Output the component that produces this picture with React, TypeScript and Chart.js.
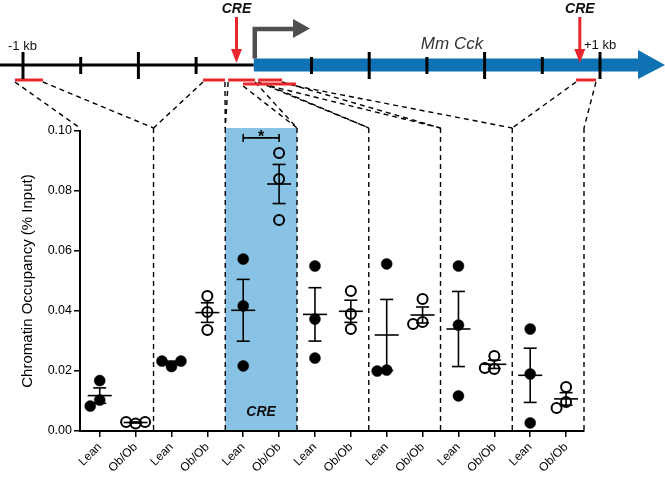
import React, { useEffect, useRef } from "react";
import { Chart, registerables } from "chart.js";

Chart.register(...registerables);

// ---------------- data ----------------
const groupLabels = ["Lean", "Ob/Ob"];
const yTitle = "Chromatin Occupancy (% Input)";
const yTicks = [0, 0.02, 0.04, 0.06, 0.08, 0.1];

// replicate values per amplicon (7 amplicons)
const leanValues = [
  [0.0103, 0.0168, 0.0083],
  [0.0215, 0.0233, 0.0233],
  [0.0573, 0.0417, 0.0217],
  [0.055, 0.0373, 0.0243],
  [0.0557, 0.0203, 0.02],
  [0.055, 0.0353, 0.0117],
  [0.034, 0.019, 0.0027],
];
const obValues = [
  [0.0025, 0.003, 0.003],
  [0.0337, 0.0397, 0.045],
  [0.0927, 0.084, 0.0703],
  [0.0467, 0.039, 0.034],
  [0.0363, 0.044, 0.0357],
  [0.0207, 0.025, 0.021],
  [0.0147, 0.0097, 0.0077],
];

// significance: [amplicon index, label, bracket height]
const significance = [{ amplicon: 2, label: "*", y: 0.0977 }];
const highlightedAmplicon = 2;
const highlightLabel = "CRE";

// gene diagram (kb relative coordinates)
const geneTicksKb = [-1, -0.8, -0.6, -0.4, -0.2, 0, 0.2, 0.4, 0.6, 0.8, 1];
const tssKb = -0.2;
const creKb = [-0.26, 0.93];
const ampliconsKb = [
  [-1.028, -0.931],
  [-0.376, -0.3],
  [-0.289, -0.196],
  [-0.237, -0.144],
  [-0.185, -0.102],
  [-0.144, -0.054],
  [0.917, 0.986],
];
const geneName = "Mm Cck";
const kbLabels = [
  { kb: -1, text: "-1 kb" },
  { kb: 1, text: "+1 kb" },
];

// ---------------- layout constants ----------------
const W = 665;
const H = 480;
const X_MIN = -0.55;
const X_MAX = 13.5;
const Y_MAX = 0.1;
const PAD = { left: 0, right: 81, top: 131, bottom: 0 };
const Y_AXIS_W = 80;
const X_AXIS_H = 49;
const PX_PER_X = (W - PAD.right - Y_AXIS_W) / (X_MAX - X_MIN);
const PX_PER_Y = (H - PAD.top - X_AXIS_H) / Y_MAX;
const FONT = "'Liberation Sans', Arial, Helvetica, sans-serif";

const KB0_PX = 23;
const PX_PER_KB = 288.5;
const kbToPx = (kb: number) => KB0_PX + (kb + 1) * PX_PER_KB;
const GENE_Y = 65;

const RED = "#E8262B";
const BLUE_ARROW = "#0E72B5";
const BLUE_REGION = "#88C3E5";

// beeswarm offsets (in x units) computed from values
function swarm(values: number[]) {
  const step = 9.5;
  const diam = 9.5;
  const placed: { dx: number; v: number }[] = [];
  return values.map((v) => {
    const tries = [0, -1, 1, -2, 2, -3, 3];
    for (const k of tries) {
      const dx = k * step;
      const ok = placed.every(
        (p) => Math.hypot(p.dx - dx, (p.v - v) * PX_PER_Y) >= diam
      );
      if (ok) {
        placed.push({ dx, v });
        return dx / PX_PER_X;
      }
    }
    return 0;
  });
}

function buildPoints(sets: number[][], g: number) {
  const pts: { x: number; y: number }[] = [];
  sets.forEach((vals, p) => {
    const offs = swarm(vals);
    vals.forEach((v, i) => pts.push({ x: 2 * p + g + offs[i], y: v }));
  });
  return pts;
}

function stats(vals: number[]) {
  const n = vals.length;
  const mean = vals.reduce((a, b) => a + b, 0) / n;
  const sd = Math.sqrt(vals.reduce((a, b) => a + (b - mean) ** 2, 0) / (n - 1));
  return { mean, sem: sd / Math.sqrt(n) };
}

function line(ctx: CanvasRenderingContext2D, x1: number, y1: number, x2: number, y2: number) {
  ctx.beginPath();
  ctx.moveTo(x1, y1);
  ctx.lineTo(x2, y2);
  ctx.stroke();
}

function panelEdges(chart: any, p: number) {
  const x = chart.scales.x;
  const left = p === 0 ? x.left : x.getPixelForValue(2 * p - 0.5);
  const right = x.getPixelForValue(2 * p + 1.5);
  return { left, right };
}

const backgroundPlugin = {
  id: "bg",
  beforeDraw(chart: any) {
    const { ctx } = chart;
    const y = chart.scales.y;
    const { left, right } = panelEdges(chart, highlightedAmplicon);
    ctx.save();
    ctx.fillStyle = BLUE_REGION;
    const top = y.top - 3;
    ctx.fillRect(left, top, right - left, y.bottom - top);
    ctx.restore();
  },
  beforeDatasetsDraw(chart: any) {
    const { ctx } = chart;
    const y = chart.scales.y;
    const top = y.top - 3;
    ctx.save();
    ctx.strokeStyle = "#000";
    ctx.lineWidth = 1.4;
    ctx.setLineDash([5, 4]);
    for (let p = 0; p < leanValues.length; p++) {
      const { right } = panelEdges(chart, p);
      line(ctx, right, top, right, y.bottom);
    }
    ctx.setLineDash([]);
    // label in highlighted panel
    const { left, right } = panelEdges(chart, highlightedAmplicon);
    ctx.fillStyle = "#111";
    ctx.font = `italic bold 14px ${FONT}`;
    ctx.textAlign = "center";
    ctx.textBaseline = "middle";
    ctx.fillText(highlightLabel, (left + right) / 2, y.getPixelForValue(0.0063));
    ctx.restore();
  },
};

const errorBarPlugin = {
  id: "errorBars",
  afterDatasetsDraw(chart: any) {
    const { ctx } = chart;
    const x = chart.scales.x;
    const y = chart.scales.y;
    ctx.save();
    ctx.strokeStyle = "#000";
    ctx.lineWidth = 1.6;
    [leanValues, obValues].forEach((sets, g) =>
      sets.forEach((vals, p) => {
        const { mean, sem } = stats(vals);
        const cx = x.getPixelForValue(2 * p + g);
        const ym = y.getPixelForValue(mean);
        const yt = y.getPixelForValue(mean + sem);
        const yb = y.getPixelForValue(mean - sem);
        line(ctx, cx - 12, ym, cx + 12, ym);
        line(ctx, cx, yt, cx, yb);
        line(ctx, cx - 6.5, yt, cx + 6.5, yt);
        line(ctx, cx - 6.5, yb, cx + 6.5, yb);
      })
    );
    // significance brackets
    significance.forEach((s) => {
      const x1 = x.getPixelForValue(2 * s.amplicon);
      const x2 = x.getPixelForValue(2 * s.amplicon + 1);
      const yy = y.getPixelForValue(s.y);
      ctx.lineWidth = 1.6;
      line(ctx, x1, yy, x2, yy);
      line(ctx, x1, yy - 4, x1, yy + 4);
      line(ctx, x2, yy - 4, x2, yy + 4);
      ctx.fillStyle = "#000";
      ctx.font = `bold 16px ${FONT}`;
      ctx.textAlign = "center";
      ctx.textBaseline = "alphabetic";
      ctx.fillText(s.label, (x1 + x2) / 2, yy + 4);
    });
    ctx.restore();
  },
};

const genePlugin = {
  id: "gene",
  afterDraw(chart: any) {
    const { ctx } = chart;
    const y = chart.scales.y;
    const top = y.top - 3;
    ctx.save();

    // connection dashed lines from amplicons to panels
    const rowEnds: number[] = [];
    const rows = ampliconsKb.map(([a, b]) => {
      const xa = kbToPx(a);
      let r = 0;
      while (rowEnds[r] !== undefined && rowEnds[r] > xa + 0.5) r++;
      rowEnds[r] = kbToPx(b);
      return r;
    });
    const rowY = (r: number) => 80 + r * 4;

    ctx.strokeStyle = "#000";
    ctx.lineWidth = 1.4;
    ctx.setLineDash([5, 4]);
    ampliconsKb.forEach(([a, b], p) => {
      const { left, right } = panelEdges(chart, p);
      const yy = rowY(rows[p]) + 2;
      line(ctx, kbToPx(a), yy, left, top);
      line(ctx, kbToPx(b), yy, right, top);
    });
    ctx.setLineDash([]);

    // amplicon red segments
    ctx.strokeStyle = RED;
    ctx.lineWidth = 3;
    ampliconsKb.forEach(([a, b], p) => {
      line(ctx, kbToPx(a), rowY(rows[p]), kbToPx(b), rowY(rows[p]));
    });

    // genomic line (upstream)
    const tssX = kbToPx(tssKb);
    ctx.strokeStyle = "#000";
    ctx.lineWidth = 3;
    line(ctx, 0, GENE_Y, tssX, GENE_Y);

    // gene body arrow
    ctx.fillStyle = BLUE_ARROW;
    const headStart = 638;
    ctx.fillRect(tssX, GENE_Y - 6.5, headStart - tssX, 13);
    ctx.beginPath();
    ctx.moveTo(headStart, GENE_Y - 15);
    ctx.lineTo(W, GENE_Y);
    ctx.lineTo(headStart, GENE_Y + 14);
    ctx.closePath();
    ctx.fill();

    // ticks
    ctx.strokeStyle = "#000";
    ctx.lineWidth = 3;
    geneTicksKb.forEach((kb, i) => {
      if (Math.abs(kb - tssKb) < 1e-6) return;
      const tx = kbToPx(kb);
      const tall = i % 2 === 0;
      if (tall) line(ctx, tx, GENE_Y - 13, tx, GENE_Y + 14);
      else line(ctx, tx, GENE_Y - 8, tx, GENE_Y + 9);
    });

    // TSS arrow
    ctx.strokeStyle = "#4F4F4F";
    ctx.fillStyle = "#4F4F4F";
    ctx.lineWidth = 4.5;
    ctx.beginPath();
    ctx.moveTo(tssX + 1, GENE_Y - 6.5);
    ctx.lineTo(tssX + 1, 29);
    ctx.lineTo(295, 29);
    ctx.stroke();
    ctx.beginPath();
    ctx.moveTo(293, 19);
    ctx.lineTo(310, 28.5);
    ctx.lineTo(293, 38);
    ctx.closePath();
    ctx.fill();

    // CRE arrows
    creKb.forEach((kb) => {
      const cx = kbToPx(kb);
      ctx.strokeStyle = RED;
      ctx.fillStyle = RED;
      ctx.lineWidth = 3;
      line(ctx, cx, 17, cx, 51);
      ctx.beginPath();
      ctx.moveTo(cx - 5.5, 49);
      ctx.lineTo(cx + 5.5, 49);
      ctx.lineTo(cx, 63);
      ctx.closePath();
      ctx.fill();
      ctx.fillStyle = "#111";
      ctx.font = `italic bold 14px ${FONT}`;
      ctx.textAlign = "center";
      ctx.textBaseline = "alphabetic";
      ctx.fillText("CRE", cx, 13);
    });

    // texts
    ctx.fillStyle = "#111";
    ctx.font = `13px ${FONT}`;
    ctx.textAlign = "left";
    ctx.textBaseline = "alphabetic";
    ctx.fillText(kbLabels[0].text, kbToPx(kbLabels[0].kb) - 15, 50);
    ctx.fillText(kbLabels[1].text, kbToPx(kbLabels[1].kb) - 16, 49);
    ctx.fillStyle = "#333";
    ctx.font = `italic 17px ${FONT}`;
    ctx.textAlign = "center";
    ctx.fillText(geneName, 452, 49);

    ctx.restore();
  },
};

export default function App() {
  const ref = useRef<HTMLCanvasElement>(null);
  useEffect(() => {
    const canvas = ref.current;
    if (!canvas) return;
    const chart = new Chart(canvas, {
      type: "scatter",
      data: {
        datasets: [
          {
            label: groupLabels[0],
            data: buildPoints(leanValues, 0),
            pointRadius: 5.5,
            pointBackgroundColor: "#000",
            pointBorderColor: "#000",
            pointBorderWidth: 0.5,
            showLine: false,
          },
          {
            label: groupLabels[1],
            data: buildPoints(obValues, 1),
            pointRadius: 5,
            pointBackgroundColor: "rgba(0,0,0,0)",
            pointBorderColor: "#000",
            pointBorderWidth: 2,
            showLine: false,
          },
        ],
      },
      options: {
        responsive: false,
        animation: false,
        devicePixelRatio: 1,
        events: [],
        layout: { padding: PAD },
        plugins: { legend: { display: false }, tooltip: { enabled: false } },
        scales: {
          x: {
            type: "linear",
            min: X_MIN,
            max: X_MAX,
            afterFit: (s: any) => {
              s.height = X_AXIS_H;
            },
            afterBuildTicks: (s: any) => {
              const t = [];
              for (let i = 0; i < leanValues.length * 2; i++) t.push({ value: i });
              s.ticks = t;
            },
            ticks: {
              autoSkip: false,
              minRotation: 45,
              maxRotation: 45,
              padding: 3,
              color: "#000",
              font: { family: FONT, size: 12 },
              callback: (v: any) => groupLabels[Math.round(Number(v)) % 2],
            },
            grid: {
              drawOnChartArea: false,
              drawTicks: true,
              tickLength: 6,
              color: "#000",
              lineWidth: 1.5,
            },
            border: { color: "#000", width: 2 },
          },
          y: {
            min: 0,
            max: Y_MAX,
            afterFit: (s: any) => {
              s.width = Y_AXIS_W;
            },
            afterBuildTicks: (s: any) => {
              s.ticks = yTicks.map((v) => ({ value: v }));
            },
            ticks: {
              padding: 2,
              color: "#000",
              font: { family: FONT, size: 12.5 },
              callback: (v: any) => Number(v).toFixed(2),
            },
            title: {
              display: true,
              text: yTitle,
              color: "#000",
              font: { family: FONT, size: 15 },
              padding: { top: 19, bottom: 0 },
            },
            grid: {
              drawOnChartArea: false,
              drawTicks: true,
              tickLength: 6,
              color: "#000",
              lineWidth: 1.5,
            },
            border: { color: "#000", width: 2 },
          },
        },
      },
      plugins: [backgroundPlugin, errorBarPlugin, genePlugin],
    } as any);
    return () => chart.destroy();
  }, []);

  return (
    <div style={{ position: "fixed", left: 0, top: 0, width: W, height: H, background: "#fff" }}>
      <canvas ref={ref} width={W} height={H} style={{ width: W, height: H, display: "block" }} />
    </div>
  );
}
